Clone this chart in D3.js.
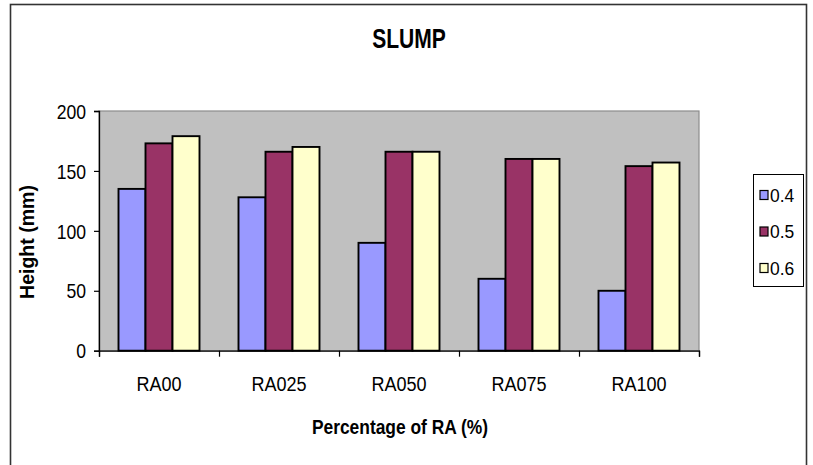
<!DOCTYPE html>
<html>
<head>
<meta charset="utf-8">
<script src="https://cdn.jsdelivr.net/npm/d3@7"></script>
<style>
  html, body { margin: 0; padding: 0; background: #fff; }
  svg { display: block; }
  text { font-family: "Liberation Sans", Arial, sans-serif; fill: #000; }
</style>
</head>
<body>
<svg id="chart" width="813" height="465"></svg>
<script>
// Slump height (mm) per recycled-aggregate mix, for three w/c ratios
const categories = ["RA00", "RA025", "RA050", "RA075", "RA100"];
const seriesNames = ["0.4", "0.5", "0.6"];
const values04 = [135, 128, 90, 60, 50];
const values05 = [173, 166, 166, 160, 154];
const values06 = [179, 170, 166, 160, 157];
const yTicks = [0, 50, 100, 150, 200];
const colors = ["#9999ff", "#993366", "#ffffcc"];

const seriesValues = [values04, values05, values06];

const svg = d3.select("#chart");

// plot rectangle
const plot = { left: 99, right: 699, top: 111, bottom: 350.7 };

// horizontally condensed text helper
function squeeze(sel, sx) {
  sel.attr("transform", function () {
    const x = +d3.select(this).attr("x") || 0;
    const y = +d3.select(this).attr("y") || 0;
    return `translate(${x},${y}) scale(${sx},1) translate(${-x},${-y})`;
  });
}

// outer frame
svg.append("rect")
  .attr("x", 10.5).attr("y", 4.5)
  .attr("width", 796).attr("height", 480)
  .attr("fill", "#fff")
  .attr("stroke", "#333").attr("stroke-width", 1.6);

const x = d3.scaleBand()
  .domain(categories)
  .range([plot.left, plot.right])
  .paddingInner(0.325)
  .paddingOuter(0.1625);

const xInner = d3.scaleBand()
  .domain(seriesNames)
  .range([0, x.bandwidth()]);

const y = d3.scaleLinear()
  .domain([0, 200])
  .range([plot.bottom, plot.top]);

// plot background
svg.append("rect")
  .attr("x", plot.left).attr("y", plot.top)
  .attr("width", plot.right - plot.left)
  .attr("height", plot.bottom - plot.top)
  .attr("fill", "#c0c0c0")
  .attr("stroke", "#8c8c8c").attr("stroke-width", 1.2);

// bars
const groups = svg.append("g").selectAll("g")
  .data(categories)
  .join("g")
  .attr("transform", d => `translate(${x(d)},0)`);

groups.selectAll("rect")
  .data((c, i) => seriesNames.map((s, k) => ({ s, k, v: seriesValues[k][i] })))
  .join("rect")
  .attr("x", d => xInner(d.s))
  .attr("y", d => y(d.v))
  .attr("width", xInner.bandwidth())
  .attr("height", d => y(0) - y(d.v))
  .attr("fill", d => colors[d.k])
  .attr("stroke", "#000")
  .attr("stroke-width", 1.9);

// y axis
const yAxis = svg.append("g")
  .attr("transform", `translate(${plot.left},0)`)
  .call(d3.axisLeft(y).tickValues(yTicks).tickSize(5).tickPadding(8));
yAxis.select(".domain").attr("stroke", "#000").attr("stroke-width", 1.3);
yAxis.selectAll(".tick line").attr("stroke", "#000").attr("stroke-width", 1.2);
yAxis.selectAll(".tick text")
  .style("font-family", '"Liberation Sans", Arial, sans-serif')
  .attr("font-size", 20)
  .attr("dy", "0.36em");
yAxis.selectAll(".tick text").each(function () {
  const t = d3.select(this);
  t.attr("transform", `scale(0.88,1)`).attr("x", -13 / 0.88);
});

// x axis: tick marks at category boundaries
const xb = d3.scaleLinear().domain([0, categories.length]).range([plot.left, plot.right]);
const xAxis = svg.append("g")
  .attr("transform", `translate(0,${plot.bottom})`)
  .call(d3.axisBottom(xb).tickValues(d3.range(categories.length + 1)).tickSize(6).tickFormat(""));
xAxis.select(".domain").attr("stroke", "#000").attr("stroke-width", 1.3);
xAxis.selectAll(".tick line").attr("stroke", "#000").attr("stroke-width", 1.2);

// category labels
svg.append("g").selectAll("text")
  .data(categories)
  .join("text")
  .attr("x", d => x(d) + x.bandwidth() / 2)
  .attr("y", 391)
  .attr("text-anchor", "middle")
  .attr("font-size", 21)
  .text(d => d)
  .call(squeeze, 0.86);

// chart title
svg.append("text")
  .attr("x", 409).attr("y", 48)
  .attr("text-anchor", "middle")
  .attr("font-size", 27)
  .attr("font-weight", "bold")
  .text("SLUMP")
  .call(squeeze, 0.78);

// axis titles
svg.append("text")
  .attr("x", 400).attr("y", 434)
  .attr("text-anchor", "middle")
  .attr("font-size", 20)
  .attr("font-weight", "bold")
  .text("Percentage of RA (%)")
  .call(squeeze, 0.87);

svg.append("text")
  .attr("transform", "translate(34,242) rotate(-90) scale(0.93,1)")
  .attr("text-anchor", "middle")
  .attr("font-size", 21)
  .attr("font-weight", "bold")
  .text("Height (mm)");

// legend
const legend = svg.append("g");
legend.append("rect")
  .attr("x", 753.5).attr("y", 174.5)
  .attr("width", 50).attr("height", 112)
  .attr("fill", "#fff")
  .attr("stroke", "#000").attr("stroke-width", 1);

const legendY = d3.scalePoint().domain(seriesNames).range([195, 268]);
const items = legend.selectAll("g.item")
  .data(seriesNames)
  .join("g").attr("class", "item");
items.append("rect")
  .attr("x", 760).attr("y", d => legendY(d) - 4.5)
  .attr("width", 8).attr("height", 9)
  .attr("fill", (d, i) => colors[i])
  .attr("stroke", "#000").attr("stroke-width", 1.2);
items.append("text")
  .attr("x", 770).attr("y", d => legendY(d) + 7)
  .attr("font-size", 19)
  .text(d => d)
  .call(squeeze, 0.92);
</script>
</body>
</html>
